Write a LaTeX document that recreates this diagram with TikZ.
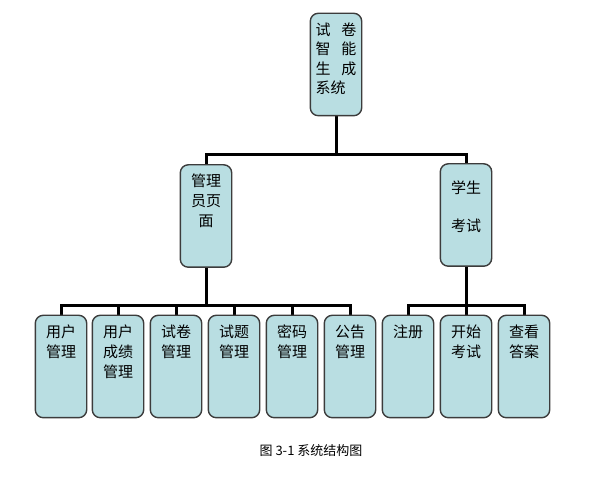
\documentclass[tikz,border=0pt]{standalone}
\usepackage{fontspec}
\newfontfamily\cjk{Noto Sans CJK SC}
\definecolor{boxfill}{RGB}{185,222,226}
\definecolor{boxline}{RGB}{60,60,60}
\begin{document}
\begin{tikzpicture}[x=1pt,y=-1pt,
  box/.style={draw=boxline, line width=1.4pt, fill=boxfill, rounded corners=8pt,
    minimum width=50pt, minimum height=101pt, inner sep=0pt},
  btext/.style={anchor=north, inner sep=0pt, align=center,
    font=\cjk\fontsize{15}{20}\selectfont},
  conn/.style={line width=3pt, black}]
\useasboundingbox (0,0) rectangle (598,497);
\fill[white] (0,0) rectangle (598,497);
\node[box] (root) at (336,64.5) {};
\node[box] (adm) at (206,216) {};
\node[box] (stu) at (466,215) {};
\foreach \i/\x in {1/61,2/118,3/176,4/234,5/292,6/350,7/408,8/466,9/524}
  \node[box] (c\i) at (\x,366.5) {};
\coordinate (j1) at (336,155);
\coordinate (j2) at (206,306);
\coordinate (j3) at (466,306);
\draw[conn] (root.south) -- (j1);
\draw[conn] (j1) -| (adm.north);
\draw[conn] (j1) -| (stu.north);
\draw[conn] (adm.south) -- (j2);
\foreach \i in {1,...,6} \draw[conn] (j2) -| (c\i.north);
\draw[conn] (stu.south) -- (j3);
\foreach \i in {7,8,9} \draw[conn] (j3) -| (c\i.north);
% redraw boxes on top of connectors
\foreach \n in {root,adm,stu,c1,c2,c3,c4,c5,c6,c7,c8,c9}
  \draw[draw=boxline, line width=1.4pt, fill=boxfill, rounded corners=8pt]
    (\n.south west) rectangle (\n.north east);
% texts
\node[btext, font=\cjk\fontsize{15}{19.5}\selectfont, align=left] (troot) at ([yshift=-9pt]root.north)
  {\makebox[41pt]{试\hfill 卷}\\ \makebox[41pt]{智\hfill 能}\\ \makebox[41pt]{生\hfill 成}\\ \makebox[41pt][l]{系统}};
\node[btext] (tadm) at ([yshift=-9pt]adm.north) {管理\\员页\\面};
\node[btext, font=\cjk\fontsize{15}{38}\selectfont] (tstu) at ([yshift=-17pt]stu.north) {学生\\考试};
\node[btext] (t1) at ([yshift=-9pt]c1.north) {用户\\管理};
\node[btext] (t2) at ([yshift=-9pt]c2.north) {用户\\成绩\\管理};
\node[btext] (t3) at ([yshift=-9pt]c3.north) {试卷\\管理};
\node[btext] (t4) at ([yshift=-9pt]c4.north) {试题\\管理};
\node[btext] (t5) at ([yshift=-9pt]c5.north) {密码\\管理};
\node[btext] (t6) at ([yshift=-9pt]c6.north) {公告\\管理};
\node[btext] (t7) at ([yshift=-9pt]c7.north) {注册};
\node[btext] (t8) at ([yshift=-9pt]c8.north) {开始\\考试};
\node[btext] (t9) at ([yshift=-9pt]c9.north) {查看\\答案};
\node[font=\cjk\fontsize{13}{14}\selectfont, inner sep=0pt] (cap) at (311,451) {图 3-1 系统结构图};
\end{tikzpicture}
\end{document}
